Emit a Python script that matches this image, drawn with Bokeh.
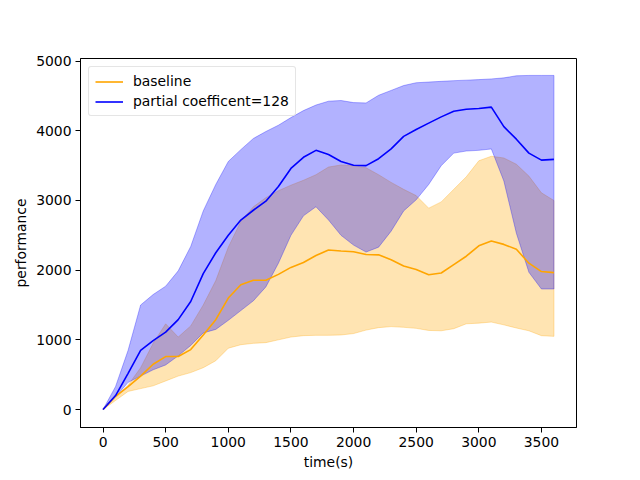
from bokeh.plotting import figure
from bokeh.models import Range1d, FixedTicker, Legend, LegendItem
from bokeh.embed import file_html
from bokeh.resources import INLINE

# time axis (s)
t = list(range(0, 3700, 100))

baseline_mean = [0, 190, 330, 480, 650, 760, 760, 860, 1070, 1290,
                 1600, 1790, 1855, 1855, 1940, 2040, 2110, 2210, 2290, 2275,
                 2265, 2225, 2220, 2150, 2060, 2010, 1935, 1960, 2080, 2200,
                 2350, 2420, 2370, 2300, 2100, 1980, 1965]
baseline_upper = [0, 160, 350, 600, 950, 1230, 1040, 1200, 1500, 1850,
                  2330, 2700, 2910, 3040, 3140, 3220, 3290, 3370, 3480, 3510,
                  3500, 3470, 3370, 3260, 3160, 3070, 2890, 2980, 3160, 3340,
                  3570, 3635, 3610, 3520, 3350, 3110, 3000]
baseline_lower = [0, 130, 260, 300, 340, 410, 480, 530, 600, 700,
                  880, 930, 950, 960, 1000, 1040, 1060, 1065, 1065, 1070,
                  1090, 1140, 1175, 1190, 1180, 1165, 1135, 1130, 1160, 1230,
                  1240, 1255, 1215, 1170, 1130, 1060, 1050]

partial_mean = [0, 200, 520, 850, 990, 1110, 1290, 1550, 1950, 2250,
                2500, 2720, 2860, 2990, 3200, 3460, 3620, 3720, 3660, 3560,
                3505, 3500, 3600, 3740, 3920, 4020, 4110, 4200, 4280, 4310,
                4320, 4340, 4060, 3880, 3680, 3580, 3590]
partial_upper = [0, 330, 850, 1500, 1650, 1770, 1990, 2340, 2850, 3230,
                 3560, 3730, 3890, 3990, 4080, 4190, 4290, 4370, 4425, 4435,
                 4405, 4400, 4510, 4580, 4650, 4690, 4700, 4710, 4720, 4727,
                 4735, 4745, 4760, 4790, 4795, 4795, 4795]
partial_lower = [0, 180, 390, 480, 570, 640, 770, 920, 1100, 1150,
                 1280, 1420, 1560, 1760, 2100, 2500, 2780, 2910, 2720, 2500,
                 2360, 2260, 2330, 2560, 2850, 3010, 3230, 3500, 3680, 3710,
                 3720, 3740, 3280, 2530, 1970, 1730, 1730]

x_ticks = [0, 500, 1000, 1500, 2000, 2500, 3000, 3500]
y_ticks = [0, 1000, 2000, 3000, 4000, 5000]

FONT = "DejaVu Sans"
FS = "13.9px"

p = figure(width=632, height=472, output_backend="svg", toolbar_location=None,
           x_range=Range1d(-180, 3780), y_range=Range1d(-258, 5038))
p.min_border_left = 80
p.min_border_right = 56
p.min_border_top = 58
p.min_border_bottom = 45
p.background_fill_color = "white"
p.border_fill_color = "white"
p.outline_line_color = "black"
p.outline_line_width = 1
p.xgrid.visible = False
p.ygrid.visible = False

def band(upper, lower, color):
    xs = t + t[::-1]
    ys = upper + lower[::-1]
    p.patch(xs, ys, fill_color=color, fill_alpha=0.3,
            line_color=color, line_alpha=0.3, line_width=1)

band(baseline_upper, baseline_lower, "orange")
band(partial_upper, partial_lower, "blue")
r1 = p.line(t, baseline_mean, line_color="orange", line_width=1.6)
r2 = p.line(t, partial_mean, line_color="blue", line_width=1.6)

for ax, ticks, lab in ((p.xaxis, x_ticks, "time(s)"), (p.yaxis, y_ticks, "performance")):
    ax.ticker = FixedTicker(ticks=ticks)
    ax.minor_tick_line_color = None
    ax.major_tick_in = 0
    ax.major_tick_out = 5
    ax.major_tick_line_color = "black"
    ax.axis_line_color = "black"
    ax.major_label_text_font = FONT
    ax.major_label_text_font_size = FS
    ax.major_label_text_color = "black"
    ax.major_label_standoff = 4
    ax.axis_label = lab
    ax.axis_label_text_font = FONT
    ax.axis_label_text_font_size = FS
    ax.axis_label_text_font_style = "normal"
    ax.axis_label_text_color = "black"
    ax.axis_label_standoff = 4

legend = Legend(items=[LegendItem(label="baseline", renderers=[r1]),
                       LegendItem(label="partial coefficent=128", renderers=[r2])],
                location="top_left")
legend.margin = 8
legend.padding = 6
legend.spacing = 4
legend.glyph_width = 28
legend.glyph_height = 15
legend.label_standoff = 10
legend.label_height = 15
legend.label_text_font = FONT
legend.label_text_font_size = FS
legend.label_text_color = "black"
legend.border_line_color = "#cccccc"
legend.border_line_width = 1
legend.border_radius = 3
legend.background_fill_alpha = 0.8
p.add_layout(legend, "center")

open("out.html", "w").write(file_html(p, INLINE))
